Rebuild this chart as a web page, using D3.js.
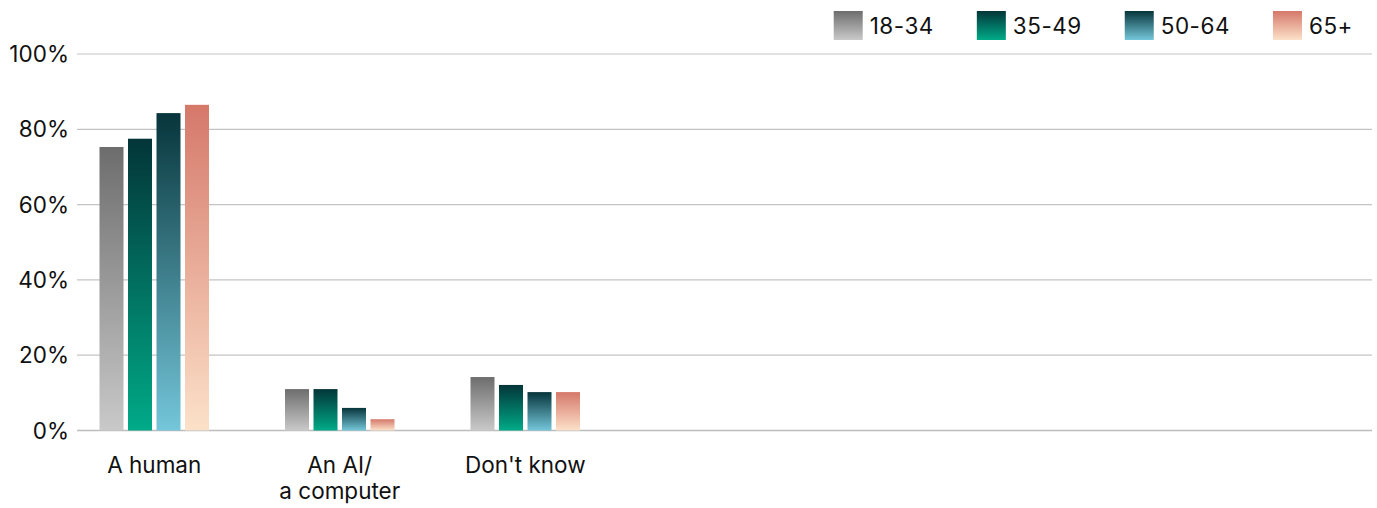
<!DOCTYPE html>
<html><head><meta charset="utf-8">
<script src="https://cdn.jsdelivr.net/npm/d3@7"></script>
<style>
html,body{margin:0;padding:0;background:#fff;}
svg text{font-family:"Inter","Liberation Sans",Arial,sans-serif;fill:#111;}
</style></head>
<body><svg id="chart" width="1377" height="508"></svg>
<script>
const categories = ["A human", "An AI/\na computer", "Don't know"];
const seriesNames = ["18-34", "35-49", "50-64", "65+"];
const values18_34 = [75.3, 11, 14.2];
const values35_49 = [77.5, 11, 12.1];
const values50_64 = [84.3, 6, 10.2];
const values65plus = [86.5, 3, 10.2];
const yTicks = [0, 20, 40, 60, 80, 100];
const tickLabels = ["0%", "20%", "40%", "60%", "80%", "100%"];
const slotCount = 7;

const seriesValues = [values18_34, values35_49, values50_64, values65plus];
const gradientStops = [
  ["#6d6d6d", "#c9c9c9"],
  ["#033538", "#00aa88"],
  ["#07353b", "#74c6da"],
  ["#d5786a", "#fce1c9"]
];

const svg = d3.select("#chart");
const plotLeft = 77, plotRight = 1372;
const fontSize = 22.5;
const y = d3.scaleLinear().domain([0, 100]).range([430.5, 54]);
const x0 = d3.scaleBand().domain(d3.range(slotCount)).range([61.5, 61.5 + 185.5 * slotCount]);
const x1 = d3.scaleBand().domain(seriesNames).range([-54.75, 54.75]).paddingInner(0.158);

const defs = svg.append("defs");
gradientStops.forEach((s, i) => {
  const g = defs.append("linearGradient").attr("id", "grad" + i)
    .attr("x1", 0).attr("y1", 0).attr("x2", 0).attr("y2", 1);
  g.append("stop").attr("offset", "0%").attr("stop-color", s[0]);
  g.append("stop").attr("offset", "100%").attr("stop-color", s[1]);
});

// gridlines
svg.append("g").selectAll("line").data(yTicks).join("line")
  .attr("x1", plotLeft).attr("x2", plotRight)
  .attr("y1", d => y(d)).attr("y2", d => y(d))
  .attr("stroke", d => d === 0 ? "#bdbdbd" : "#c4c4c4")
  .attr("stroke-width", d => d === 0 ? 1.6 : 1.2);

// y labels
svg.append("g").selectAll("text").data(yTicks).join("text")
  .attr("x", 69).attr("y", d => y(d)).attr("dy", "0.36em")
  .attr("text-anchor", "end").attr("font-size", fontSize)
  .text((d, i) => tickLabels[i]);

// bars
const groups = svg.append("g").selectAll("g").data(categories).join("g")
  .attr("transform", (d, i) => `translate(${x0(i) + x0.bandwidth() / 2},0)`);
groups.selectAll("rect").data((d, i) => seriesNames.map((s, k) => ({s, k, v: seriesValues[k][i]})))
  .join("rect")
  .attr("x", d => x1(d.s)).attr("width", x1.bandwidth())
  .attr("y", d => y(d.v)).attr("height", d => y(0) - y(d.v))
  .attr("fill", d => `url(#grad${d.k})`);

// category labels
groups.append("text").attr("text-anchor", "middle").attr("font-size", fontSize)
  .selectAll("tspan").data(d => d.split("\n")).join("tspan")
  .attr("x", 0).attr("y", (d, i) => 473 + i * 26).text(d => d);

// legend (right-aligned)
const legend = svg.append("g");
const items = legend.selectAll("g").data(seriesNames).join("g");
items.append("rect").attr("width", 29).attr("height", 29).attr("y", 11)
  .attr("fill", (d, i) => `url(#grad${i})`);
items.append("text").attr("x", 36).attr("y", 26).attr("dy", "0.36em")
  .attr("font-size", fontSize).attr("letter-spacing", 0.5).text(d => d);
let widths = [];
items.each(function () { widths.push(36 + this.querySelector("text").getComputedTextLength()); });
const gap = 43;
const total = d3.sum(widths) + gap * (widths.length - 1);
let cx = 1353 - total;
items.attr("transform", (d, i) => { const t = `translate(${cx},0)`; cx += widths[i] + gap; return t; });
</script></body></html>
